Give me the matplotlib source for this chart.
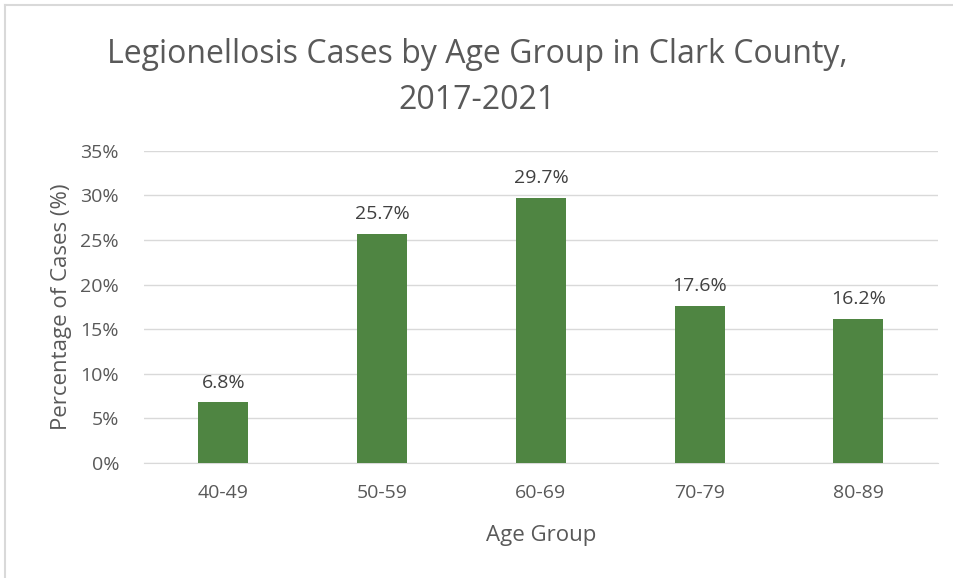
import matplotlib.pyplot as plt
from matplotlib.lines import Line2D
from matplotlib.ticker import FuncFormatter

age_groups = ['40-49', '50-59', '60-69', '70-79', '80-89']
pct_cases = [6.8, 25.7, 29.7, 17.6, 16.2]
y_ticks = [0, 5, 10, 15, 20, 25, 30, 35]

plt.rcParams['font.family'] = ['Open Sans', 'DejaVu Sans']
text_color = '#595959'
bar_color = '#4F8542'

fig = plt.figure(figsize=(9.54, 5.78), dpi=100)
ax = fig.add_axes([0.151, 0.199, 0.832, 0.540])

x = range(len(age_groups))
bars = ax.bar(x, pct_cases, width=0.315, color=bar_color, zorder=3)

for xi, v in zip(x, pct_cases):
    ax.text(xi, v + 1.2, f'{v:.1f}%', ha='center', va='bottom',
            fontsize=14, color='#404040')

ax.set_xlim(-0.5, len(age_groups) - 0.5)
ax.set_ylim(0, 35)
ax.set_yticks(y_ticks)
ax.yaxis.set_major_formatter(FuncFormatter(lambda v, p: f'{v:.0f}%'))
ax.set_xticks(list(x))
ax.set_xticklabels(age_groups)
ax.grid(axis='y', color='#d9d9d9', linewidth=1, zorder=0)
ax.tick_params(axis='both', length=0, labelsize=14, colors=text_color)
ax.tick_params(axis='x', pad=15)
ax.tick_params(axis='y', pad=18)
for s in ['top', 'right', 'left']:
    ax.spines[s].set_visible(False)
ax.spines['bottom'].set_color('#d9d9d9')

ax.set_xlabel('Age Group', fontsize=16, color=text_color, labelpad=17)
ax.set_ylabel('Percentage of Cases (%)', fontsize=16, color=text_color, labelpad=6)

fig.text(0.5, 0.866, 'Legionellosis Cases by Age Group in Clark County,\n2017-2021',
         ha='center', va='center', fontsize=23, color=text_color, linespacing=1.5)

# chart border (left and top edges show in the crop)
fig.lines.append(Line2D([5 / 954, 5 / 954], [0, 1 - 5 / 578], transform=fig.transFigure,
                        color='#d9d9d9', linewidth=1.5))
fig.lines.append(Line2D([5 / 954, 1], [1 - 5 / 578, 1 - 5 / 578], transform=fig.transFigure,
                        color='#d9d9d9', linewidth=1.5))

fig.savefig('out.png', dpi=100)
